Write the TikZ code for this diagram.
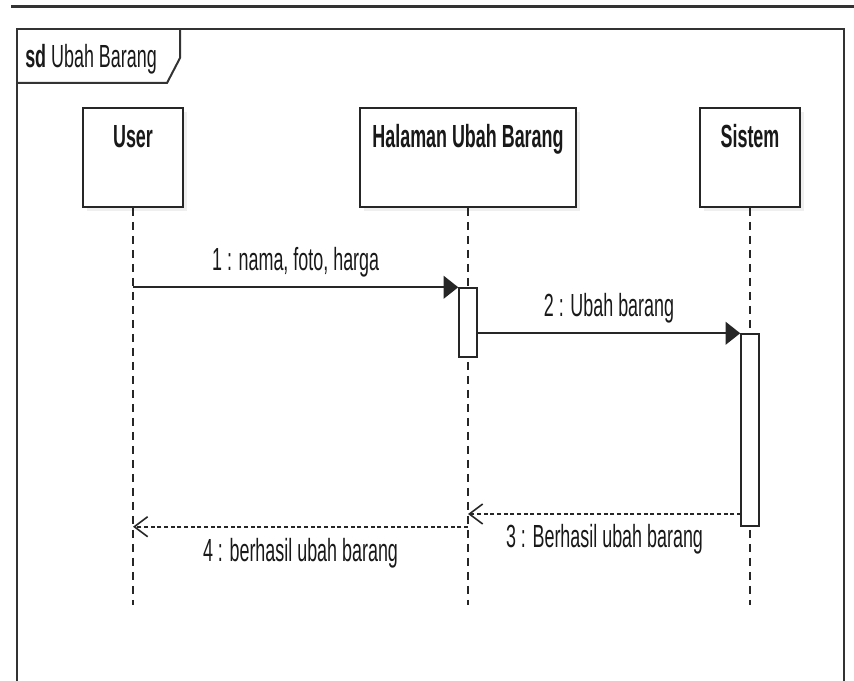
\documentclass[tikz,border=0pt]{standalone}
\usepackage{fontspec}
\setmainfont{Liberation Sans}[FakeStretch=0.56]
\usepackage{tikz}
\usetikzlibrary{arrows.meta, positioning, shadows}

\begin{document}
\begin{tikzpicture}[x=0.75pt, y=-0.75pt,
        base/.style={font=\fontsize{24}{28}\selectfont, inner sep=0pt, text=black!90},
        frame/.style={draw=black!80, line width=1.5pt},
        lifebox/.style={draw=black!85, line width=1.4pt, fill=white, minimum height=74.25pt, inner sep=0pt,
            drop shadow={shadow xshift=3pt, shadow yshift=-3pt, fill=black!10, opacity=0.6}},
        boxtitle/.style={base, font=\fontsize{24}{28}\selectfont\bfseries, anchor=base, yshift=-30.5pt},
        actbar/.style={draw=black!85, line width=1.1pt, fill=white, minimum width=13.5pt, inner sep=0pt},
        lifeline/.style={draw=black!85, line width=1.1pt, dash pattern=on 6pt off 4.5pt},
        msg/.style={draw=black!85, line width=1.5pt, -{Triangle[length=11pt, width=17pt]}},
        reply/.style={draw=black!85, line width=1.2pt, dash pattern=on 3pt off 2pt,
            -{Straight Barb[length=10pt, width=15pt, line width=1.2pt]}},
        msglabel/.style={base, anchor=base}
    ]
    \useasboundingbox (0,0) rectangle (854,681);

    % frame
    \draw [black!80, line width=2.4pt] (11,6.5) -- (854,6.5);
    \draw [frame] (17,681) |- (844,29.5) -- (844,681);
    \draw [frame] (17,83) -- (167,83) -- (180,58) -- (180,29.5);
    \node (sdlabel) at (25,68) [base, anchor=base west] {\textbf{sd} Ubah Barang};

    % lifelines
    \node (user) at (133,157.5) [lifebox, minimum width=75pt] {};
    \node (page) at (468,157.5) [lifebox, minimum width=162pt] {};
    \node (sistem) at (750,157.5) [lifebox, minimum width=75pt] {};
    \node (userTitle) at (user.north) [boxtitle] {User};
    \node (pageTitle) at (page.north) [boxtitle] {Halaman Ubah Barang};
    \node (sistemTitle) at (sistem.north) [boxtitle] {Sistem};

    \coordinate (userEnd) at (133,605);
    \coordinate (pageEnd) at (468,605);
    \coordinate (sistemEnd) at (750,605);
    \draw [lifeline] (user) -- (userEnd);
    \draw [lifeline] (page) -- (pageEnd);
    \draw [lifeline] (sistem) -- (sistemEnd);

    % activations
    \node (act1) at (468,322.5) [actbar, minimum height=51.75pt] {};
    \node (act2) at (750,430) [actbar, minimum height=144pt] {};
    \coordinate (ret3) at (741,514);

    % messages
    \draw [msg] (user |- act1.north west) -- (act1.north west)
        node (m1) [msglabel, midway, yshift=12.75pt] {1 : nama, foto, harga};
    \draw [msg] (act1.east |- act2.north west) -- (act2.north west)
        node (m2) [msglabel, midway, yshift=12.75pt] {2 : Ubah barang};
    \draw [reply] (ret3) -- (page |- ret3)
        node (m3) [msglabel, midway, yshift=-24.75pt] {3 : Berhasil ubah barang};
    \draw [reply] (page |- act2.south) -- (user |- act2.south)
        node (m4) [msglabel, midway, yshift=-26pt] {4 : berhasil ubah barang};

\end{tikzpicture}
\end{document}
